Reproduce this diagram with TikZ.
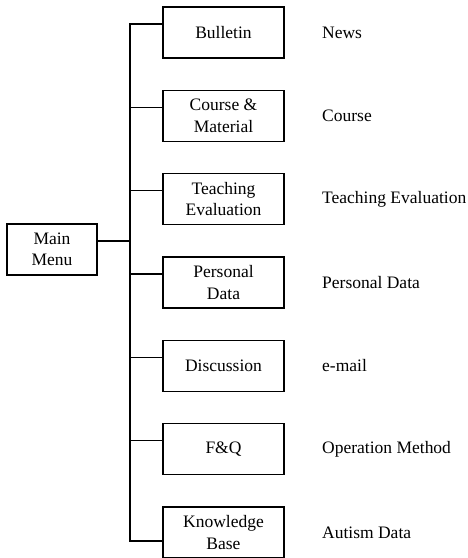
\documentclass[tikz,border=0pt]{standalone}
\usepackage{fontspec}
\setmainfont{Liberation Serif}
\begin{document}
\begin{tikzpicture}[x=1pt,y=-1pt,
  every node/.style={font=\fontsize{17.5}{21.5}\selectfont, inner sep=0pt},
  menubox/.style={draw, line width=1.2pt, minimum width=121pt, minimum height=51pt, align=center},
  mainbox/.style={draw, line width=1.2pt, minimum width=90pt, minimum height=51pt, align=center},
  desc/.style={anchor=west},
  link/.style={line width=1.2pt}]
\useasboundingbox (0,0) rectangle (468,558);

% root
\node[mainbox] (main) at (52,249.5) {Main\\Menu};

% menu items
\node[menubox] (b1) at (223.5,32.5)  {Bulletin};
\node[menubox] (b2) at (223.5,115.8) {Course \&\\Material};
\node[menubox] (b3) at (223.5,199.2) {Teaching\\Evaluation};
\node[menubox] (b4) at (223.5,282.5) {Personal\\Data};
\node[menubox] (b5) at (223.5,365.8) {Discussion};
\node[menubox] (b6) at (223.5,449.2) {F\&Q};
\node[menubox] (b7) at (223.5,532.5) {Knowledge\\Base};

% descriptions
\node[desc] (d1) at (322,32.5)  {News};
\node[desc] (d2) at (322,115.8) {Course};
\node[desc] (d3) at (322,199.2) {Teaching Evaluation};
\node[desc] (d4) at (322,282.5) {Personal Data};
\node[desc] (d5) at (322,365.8) {e-mail};
\node[desc] (d6) at (322,449.2) {Operation Method};
\node[desc] (d7) at (322,532.5) {Autism Data};

% tree connectors
\coordinate (trunk) at (130,0);
\draw[link] ([yshift=8.5pt]main.east) -- ([yshift=8.5pt]main.east -| trunk);
\draw[link] ([yshift=8.5pt]b1.west) -- ([yshift=8.5pt]b1.west -| trunk)
  -- ([yshift=-8.5pt]b7.west -| trunk) -- ([yshift=-8.5pt]b7.west);
\foreach \b in {b2,b3,b4,b5,b6}
  \draw[link] ([yshift=8.5pt]\b.west) -- ([yshift=8.5pt]\b.west -| trunk);
\end{tikzpicture}
\end{document}
